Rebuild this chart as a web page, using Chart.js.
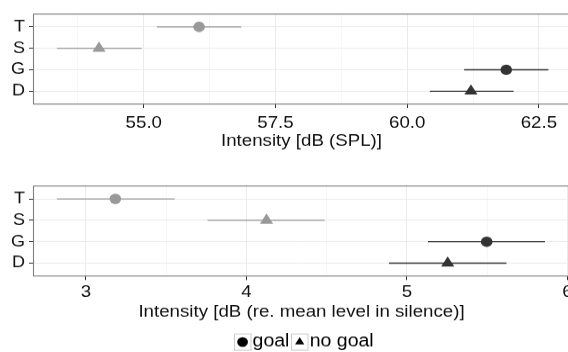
<!DOCTYPE html>
<html>
<head>
<meta charset="utf-8">
<script src="https://cdn.jsdelivr.net/npm/chart.js@4.4.1/dist/chart.umd.min.js"></script>
<style>
  html, body { margin: 0; padding: 0; background: #fff; overflow: hidden; }
  body { width: 568px; height: 352px; position: relative; }
  /* the source picture is a little squashed vertically */
  .panel { position: absolute; left: 0; width: 616px; transform: scaleY(0.9); transform-origin: top left; }
  #top { top: 0; height: 178px; }
  #bottom { top: 170px; height: 202px; }
</style>
</head>
<body>
<div class="panel" id="top"><canvas id="splChart"></canvas></div>
<div class="panel" id="bottom"><canvas id="relChart"></canvas></div>
<script>
// rows bottom to top
const categories = ['D', 'G', 'S', 'T'];
const goal = [false, true, false, true];
const catColors = ['#333333', '#333333', '#999999', '#999999'];

const splMean = [61.21, 61.88, 54.15, 56.05];
const splLow = [60.43, 61.08, 53.35, 55.25];
const splHigh = [62.02, 62.68, 54.96, 56.85];
const splMajorTicks = [55, 57.5, 60, 62.5];
const splMinorTicks = [53.75, 56.25, 58.75, 61.25];

const relMean = [5.254, 5.497, 4.125, 3.183];
const relLow = [4.888, 5.131, 3.757, 2.82];
const relHigh = [5.62, 5.86, 4.488, 3.553];
const relMajorTicks = [3, 4, 5, 6];
const relMinorTicks = [3.5, 4.5, 5.5];

const legendLabels = ['goal', 'no goal'];
const legendShapes = ['circle', 'triangle'];

const FONT = 'Liberation Sans, Arial, Helvetica, sans-serif';
const TEXT = '#111111';

// ggplot-ish panel border
const panelBorder = {
  id: 'panelBorder',
  afterDraw(chart) {
    const { ctx, chartArea } = chart;
    ctx.save();
    ctx.strokeStyle = '#7f7f7f';
    ctx.lineWidth = 1.1;
    ctx.strokeRect(
      Math.round(chartArea.left) + 0.5,
      chartArea.top,
      Math.round(chartArea.right - chartArea.left),
      chartArea.bottom - chartArea.top
    );
    ctx.restore();
  },
};

// grey box round each legend key
const legendKeyBox = {
  id: 'legendKeyBox',
  beforeDraw(chart) {
    const legend = chart.legend;
    if (!legend || !legend.legendHitBoxes) return;
    const ctx = chart.ctx;
    const bw = legend.options.labels.boxWidth;
    ctx.save();
    ctx.strokeStyle = '#cccccc';
    ctx.lineWidth = 1;
    legend.legendHitBoxes.forEach((box) => {
      const cx = box.left + bw / 2;
      const cy = box.top + box.height / 2;
      ctx.strokeRect(Math.round(cx - 8.3) + 0.5, cy - 9, 16.5, 18);
    });
    ctx.restore();
  },
};

function build_datasets(mean, low, high) {
  const bars = categories.map((cat, i) => ({
    label: cat,
    data: [{ x: low[i], y: i + 1 }, { x: high[i], y: i + 1 }],
    showLine: true,
    borderColor: catColors[i],
    borderWidth: 1.3,
    pointRadius: 0,
    order: 1,
  }));
  const points = {
    label: 'mean',
    data: categories.map((cat, i) => ({ x: mean[i], y: i + 1 })),
    pointStyle: goal.map((g) => (g ? 'circle' : 'triangle')),
    pointRadius: goal.map((g) => (g ? 5.8 : 7.6)),
    pointBackgroundColor: catColors,
    pointBorderColor: catColors,
    pointBorderWidth: 0,
    order: 0,
  };
  return [points, ...bars];
}

function x_scale(min, max, major, minor, fmt, title, axisHeight, tickPad, titlePad) {
  const isMajor = (v) => major.some((m) => Math.abs(m - v) < 1e-9);
  return {
    type: 'linear',
    min: min,
    max: max,
    afterBuildTicks: (scale) => {
      scale.ticks = [...major, ...minor].sort((a, b) => a - b).map((v) => ({ value: v }));
    },
    afterFit: (scale) => {
      scale.height = axisHeight;
    },
    ticks: {
      autoSkip: false,
      maxRotation: 0,
      padding: tickPad,
      color: TEXT,
      font: { family: FONT, size: 18.7 },
      callback: (value) => (isMajor(value) ? fmt(value) : ''),
    },
    grid: {
      color: (ctx) => (ctx.tick && isMajor(ctx.tick.value) ? '#ebebeb' : '#f4f4f4'),
      lineWidth: (ctx) => (ctx.tick && isMajor(ctx.tick.value) ? 1 : 0.7),
      tickColor: (ctx) => (ctx.tick && isMajor(ctx.tick.value) ? '#333333' : 'rgba(0,0,0,0)'),
      tickLength: 4.5,
    },
    border: { display: false },
    title: {
      display: true,
      text: title,
      color: TEXT,
      font: { family: FONT, size: 18.7 },
      padding: { top: 0, bottom: titlePad },
    },
  };
}

const y_scale = {
  type: 'linear',
  min: 0.4,
  max: 4.6,
  afterBuildTicks: (scale) => {
    scale.ticks = categories.map((c, i) => ({ value: i + 1 }));
  },
  afterFit: (scale) => {
    scale.width = 33;
  },
  ticks: {
    padding: 4,
    color: TEXT,
    font: { family: FONT, size: 18 },
    callback: (value) => categories[value - 1],
  },
  grid: { color: '#ebebeb', tickColor: '#333333', tickLength: 4 },
  border: { display: false },
};

// spare axis on the right: the picture is cut off there
const right_pad = {
  type: 'linear',
  position: 'right',
  min: 0,
  max: 1,
  afterFit: (scale) => {
    scale.width = 46;
  },
  ticks: { display: false },
  grid: { display: false },
  border: { display: false },
};

const ctxTop = document.getElementById('splChart').getContext('2d');
new Chart(ctxTop, {
  type: 'scatter',
  data: { datasets: build_datasets(splMean, splLow, splHigh) },
  options: {
    animation: false,
    responsive: true,
    maintainAspectRatio: false,
    layout: { padding: { top: 15.6, left: 0, right: 0, bottom: 0 } },
    scales: {
      x: x_scale(52.897, 63.09, splMajorTicks, splMinorTicks, (v) => v.toFixed(1),
        'Intensity [dB (SPL)]', 62.4, 5.5, 9.6),
      y: y_scale,
      y2: right_pad,
    },
    plugins: { legend: { display: false }, tooltip: { enabled: false } },
  },
  plugins: [panelBorder],
});

const ctxBottom = document.getElementById('relChart').getContext('2d');
new Chart(ctxBottom, {
  type: 'scatter',
  data: { datasets: build_datasets(relMean, relLow, relHigh) },
  options: {
    animation: false,
    responsive: true,
    maintainAspectRatio: false,
    layout: { padding: { top: 17.8, left: 0, right: 0, bottom: 0 } },
    scales: {
      x: x_scale(2.67, 6.016, relMajorTicks, relMinorTicks, (v) => String(v),
        'Intensity [dB (re. mean level in silence)]', 53.55, 2.4, 2.3),
      y: y_scale,
      y2: right_pad,
    },
    plugins: {
      tooltip: { enabled: false },
      legend: {
        display: true,
        position: 'bottom',
        maxHeight: 30.65,
        labels: {
          usePointStyle: true,
          boxWidth: 0.5,
          boxHeight: 7.6,
          padding: 10,
          color: TEXT,
          font: { family: FONT, size: 19.5 },
          generateLabels: () =>
            legendLabels.map((text, i) => ({
              text: text,
              pointStyle: legendShapes[i],
              fillStyle: '#000000',
              strokeStyle: '#000000',
              lineWidth: 0,
              hidden: false,
            })),
        },
        onClick: () => {},
      },
    },
  },
  plugins: [panelBorder, legendKeyBox],
});
</script>
</body>
</html>
